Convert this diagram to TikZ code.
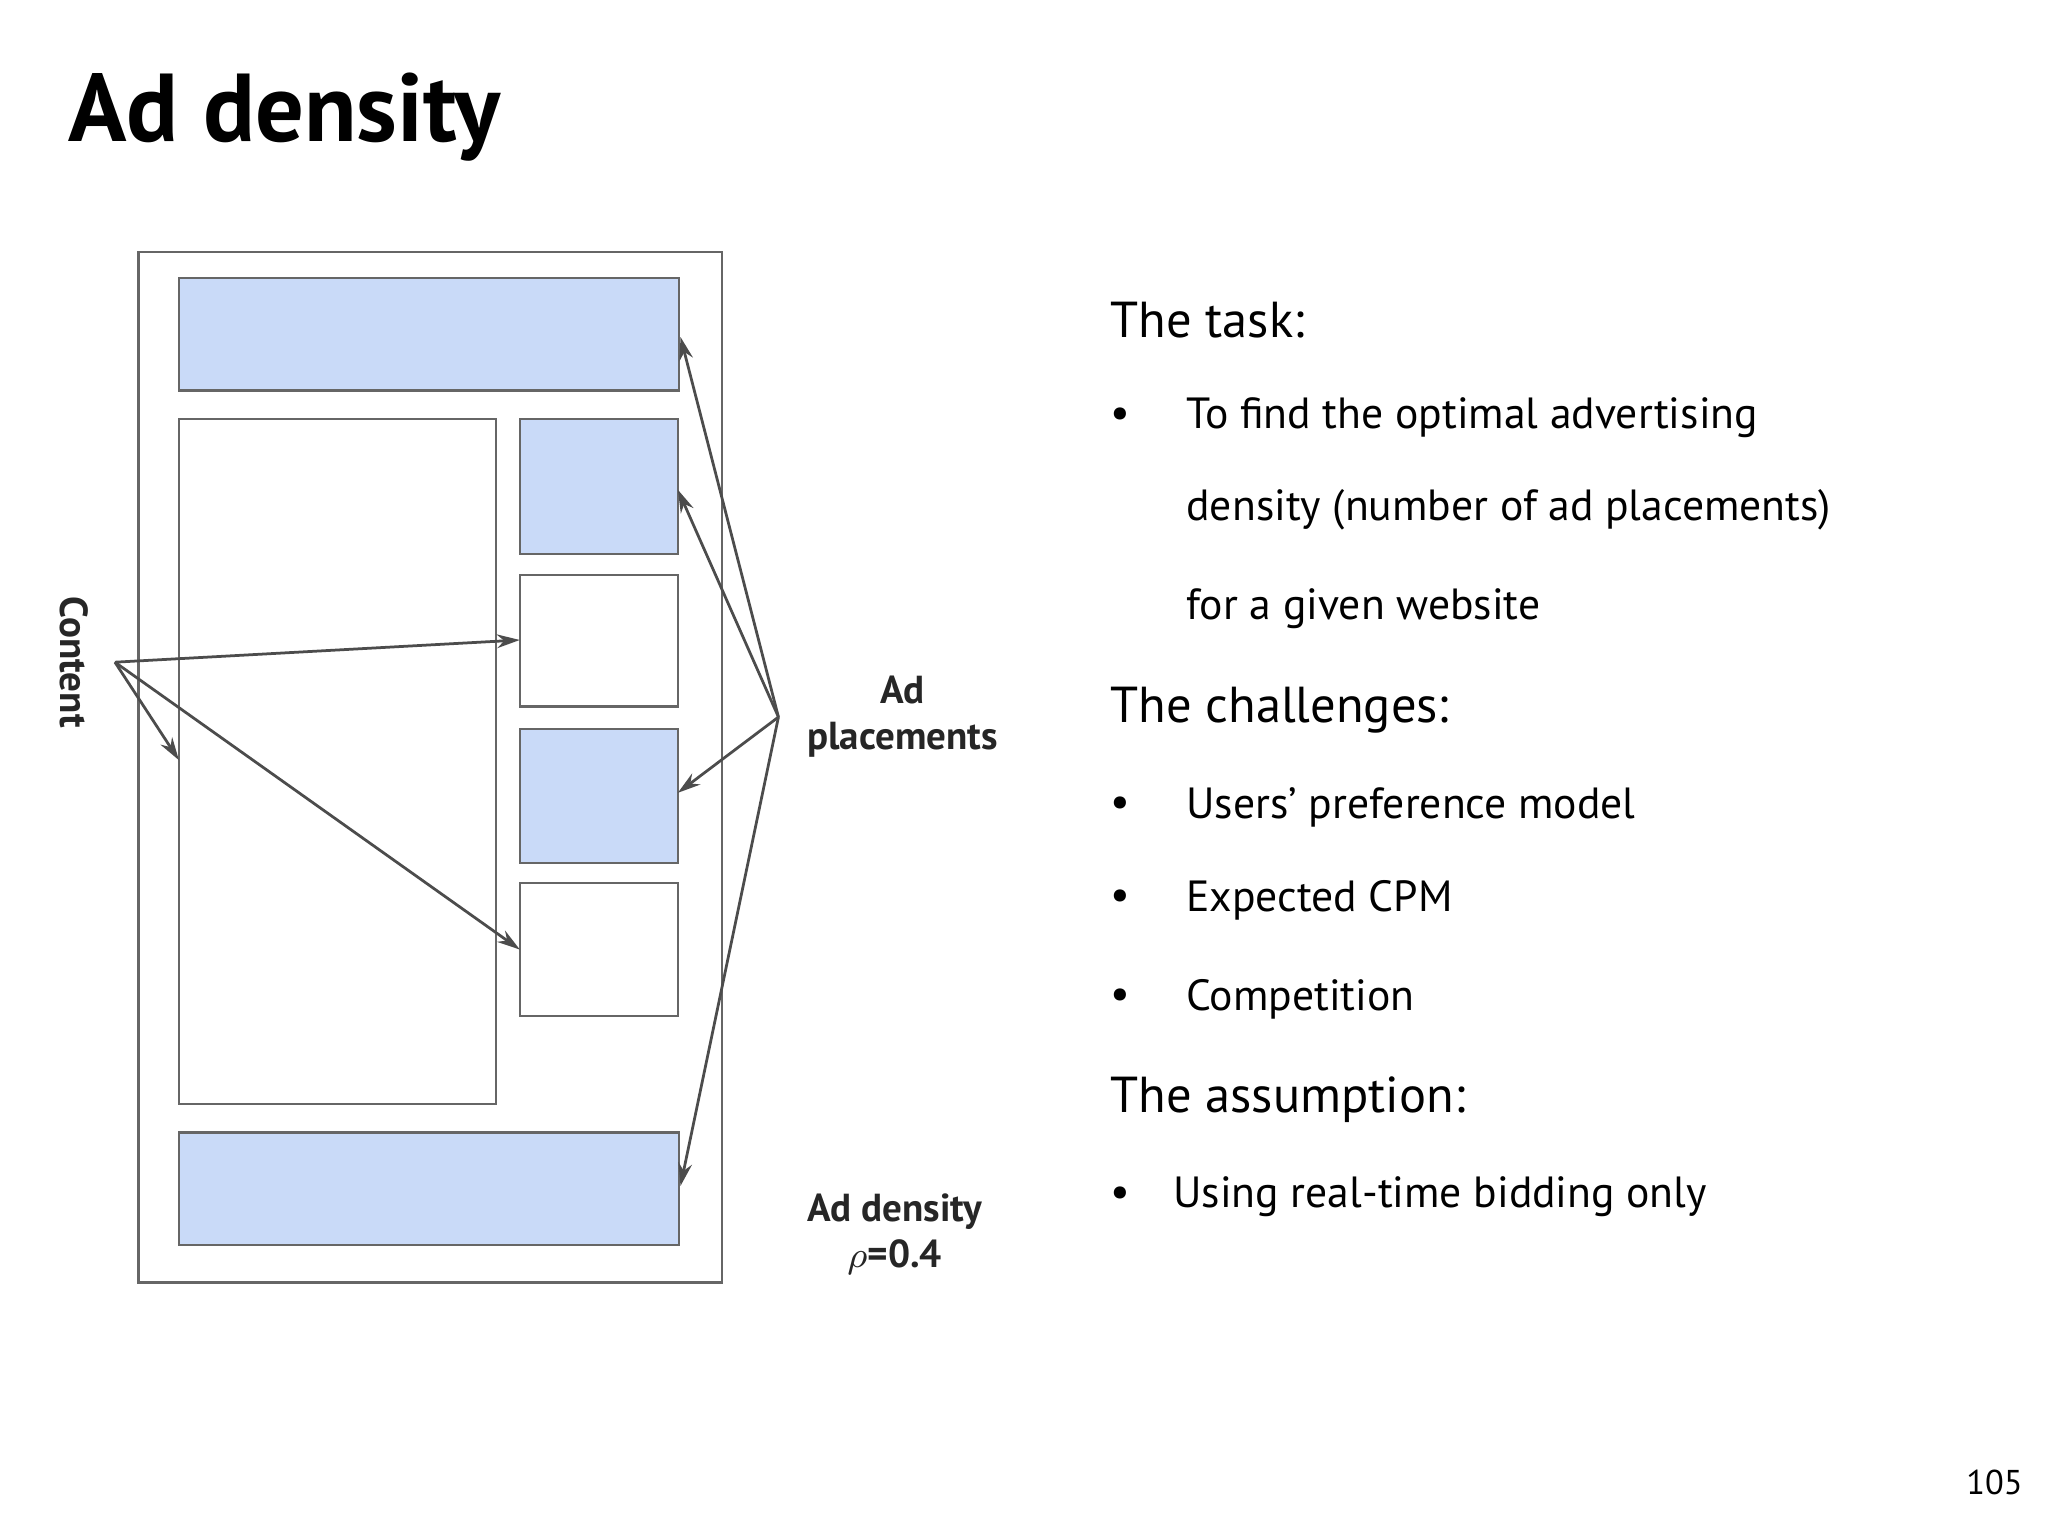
\documentclass[tikz,border=0pt]{standalone}
\usepackage{fontspec}
\setmainfont{PT Sans}
\usetikzlibrary{arrows.meta, positioning}
\definecolor{adblue}{HTML}{C9DAF8}
\definecolor{frame}{HTML}{666666}
\begin{document}
\begin{tikzpicture}[x=0.01cm, y=-0.01cm,
  box/.style={draw=frame, line width=0.5pt, fill=white},
  ad/.style={box, fill=adblue},
  link/.style={draw=black!70, line width=0.6pt, -{Stealth[length=5pt, width=3pt]}},
  lbl/.style={font=\bfseries\fontsize{8.5}{10}\selectfont, align=center, text=black!85},
  head/.style={anchor=west, font=\fontsize{11}{13}\selectfont},
  item/.style={anchor=west, font=\fontsize{9.5}{12}\selectfont}]
  \useasboundingbox (0,0) rectangle (1568,1176);
  % page layout
  \draw[box] (106,193) rectangle (553,982);
  \draw[ad] (137,213) rectangle (520,299);
  \draw[box] (137,321) rectangle (380,845);
  \draw[ad] (398,321) rectangle (519,424);
  \draw[box] (398,440) rectangle (519,541);
  \draw[ad] (398,558) rectangle (519,661);
  \draw[box] (398,676) rectangle (519,778);
  \draw[ad] (137,867) rectangle (520,953);
  % labels
  \node[lbl, rotate=-90] (content) at (57,507) {Content};
  \coordinate (csrc) at (88,507);
  \node[lbl] (place) at (691,549) {Ad\\placements};
  \coordinate (psrc) at (596,549);
  \node[lbl] (dens) at (685,945) {Ad density\\$\rho$=0.4};
  % arrows
  \foreach \p in {(398,490), (137,582), (398,727)}
    \draw[link] (csrc) -- \p;
  \foreach \p in {(521,258), (519,375), (519,607), (521,908)}
    \draw[link] (psrc) -- \p;
  % text
  \node[anchor=west, font=\bfseries\fontsize{21}{24}\selectfont] (title) at (40,90) {Ad density};
  \node[head] (task) at (838,245) {The task:};
  \node[item] at (838,320) {•};
  \node[item] at (896,320) {To find the optimal advertising};
  \node[item] at (896,390) {density (number of ad placements)};
  \node[item] at (896,466) {for a given website};
  \node[head] (chal) at (838,544) {The challenges:};
  \node[item] at (838,618) {•};
  \node[item] at (896,618) {Users’ preference model};
  \node[item] at (838,689) {•};
  \node[item] at (896,689) {Expected CPM};
  \node[item] at (838,765) {•};
  \node[item] at (896,765) {Competition};
  \node[head] (assm) at (838,842) {The assumption:};
  \node[item] at (838,916) {•};
  \node[item] at (886,916) {Using real-time bidding only};
  \node[font=\fontsize{7.5}{9}\selectfont] (pg) at (1527,1135) {105};
\end{tikzpicture}
\end{document}
